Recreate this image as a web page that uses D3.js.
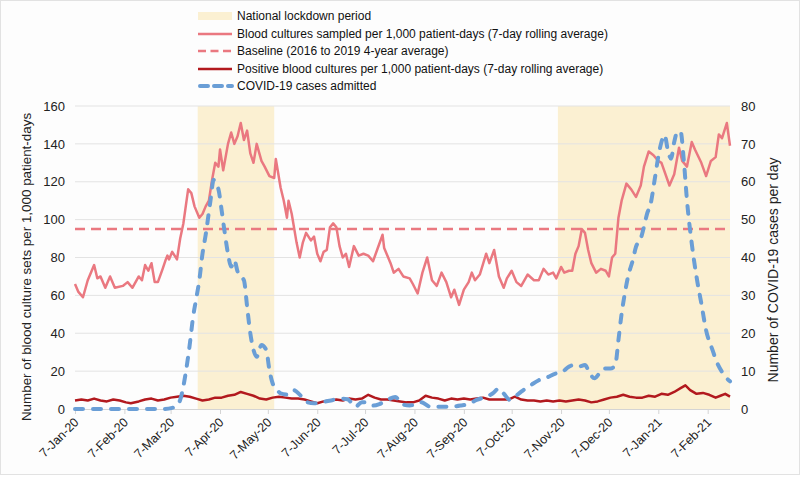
<!DOCTYPE html>
<html><head><meta charset="utf-8">
<script src="https://cdn.jsdelivr.net/npm/d3@7"></script>
<style>
body{margin:0;background:#fff;}
svg{display:block;font-family:"Liberation Sans",Arial,sans-serif;}
</style></head>
<body><svg id="c" width="800" height="477"></svg>
<script>
// ---- data (day offsets counted from 7-Jan-2020) ----
const startDate = "2020-01-07";
const endDate = "2021-02-21";
const xTickLabels = ["7-Jan-20","7-Feb-20","7-Mar-20","7-Apr-20","7-May-20","7-Jun-20","7-Jul-20","7-Aug-20","7-Sep-20","7-Oct-20","7-Nov-20","7-Dec-20","7-Jan-21","7-Feb-21"];
const leftTicks = [0,20,40,60,80,100,120,140,160];
const rightTicks = [0,10,20,30,40,50,60,70,80];
const lockdownStart = ["2020-03-24","2020-11-05"];
const lockdownEnd = ["2020-05-11","2021-02-21"];
const baseline = 95;

const sampledDay = [0,2,5,8,12,14,16,19,22,25,30,33,36,40,42,44,46,48,50,52,55,57,58,59,61,64,66,68,70,71,73,75,78,80,82,84,86,88,90,91,93,96,98,100,102,104,106,108,110,112,114,117,119,122,125,126,129,131,133,134,136,139,141,143,145,148,150,152,154,156,158,160,162,164,166,168,170,172,175,178,181,184,187,190,193,194,198,200,203,206,210,212,215,218,221,224,227,230,233,236,238,241,244,247,249,251,254,258,260,263,266,269,271,274,277,280,284,288,291,294,297,300,302,305,307,310,312,314,316,318,320,322,324,327,330,333,335,337,339,341,343,346,349,352,355,357,360,363,366,368,373,376,379,381,384,387,389,393,396,399,402,404,406,409,411];
const sampledValue = [66,62,59,68,76,69,70,64,70,64,65,67,64,70,68,76,73,77,67,67,74,79,81,79,83,79,90,98,110,116,114,107,101,103,107,110,121,130,128,137,126,140,146,140,144,151,142,147,135,130,140,131,128,123,122,132,117,110,101,110,103,88,80,88,93,89,91,82,78,83,84,96,98,96,86,80,82,75,86,81,82,81,78,85,92,85,77,72,74,70,69,66,61,72,80,68,65,72,67,59,63,55,63,67,72,68,71,82,77,84,70,64,69,73,67,65,71,68,68,74,71,72,69,75,72,73,73,82,86,95,93,84,77,72,74,73,70,80,82,101,110,119,116,112,118,128,136,134,131,130,118,124,138,131,128,141,137,130,123,131,133,145,143,151,139];

const positiveDay = [0,4,8,12,16,20,24,28,32,35,40,44,48,52,56,60,64,68,72,76,80,84,88,92,96,100,104,108,112,116,120,124,128,132,136,140,144,148,152,156,160,164,168,172,176,180,184,188,192,196,200,204,208,212,216,220,224,228,232,236,240,244,248,252,256,260,264,268,272,276,280,284,288,292,296,300,304,308,312,316,320,324,328,332,336,340,344,348,352,356,360,364,368,372,376,380,383,386,390,394,398,402,405,408,411];
const positiveValue = [4.5,5,4.5,5.5,4.5,4,5,4.5,3.5,3,4,5,5.5,4.5,5,6,6.5,7,6.5,5.5,4.5,5,6,6,7,7.5,9,8,7,5.5,5,6,6.5,6,5.5,5.5,5,4,3,4,4.5,5,4.5,5.5,5,5.5,7.5,6,5,5,4.5,4,3.5,3.5,4.5,7,6,5.5,4.5,5.5,5,5.5,5,5.5,6,5,5,5,5,6.5,5,4.5,4.5,4,4.5,4,4.5,4,4.5,5,4.5,3.5,4,5,6,6.5,7.5,6.5,6,6,7,6.5,8,7.5,9,11,12.5,10,8,8.5,7.5,6,7,8,6.5];

const covidDay = [0,20,40,55,61,64,66,68,70,72,74,76,78,80,82,85,87,89,90,92,94,96,98,100,102,104,106,108,110,112,114,117,120,122,124,127,129,133,137,141,145,150,156,162,168,171,176,180,183,187,191,196,201,205,210,217,223,229,235,242,247,252,258,262,266,269,273,276,280,286,291,296,302,305,310,313,316,320,323,326,329,332,336,339,341,343,345,347,350,352,355,357,359,361,364,366,368,370,372,374,376,378,380,382,384,387,390,393,396,400,403,406,409,411];
const covidValue = [0,0,0,0,0.3,1,2.4,6,11,17,24,29,34,41,46,55,60.5,59,58,52.5,46.4,41,37.6,39.3,36.3,35,34,27,20,15.6,13.8,16.9,15.6,10.3,6.8,5,4.1,3.8,5,3.8,1.9,1.5,1.9,2.4,2.7,2.6,0.6,1.8,1.8,0.9,1.3,2.4,3.2,1.3,0.9,1.8,0.6,0.6,0.6,0.9,1.3,2.4,3.2,4.1,5.4,4.1,2.4,3.2,4.6,6.3,7.6,8.3,9.4,9.6,11.2,11.6,11.2,11.6,9.4,8.1,9.4,10.7,10.7,11.6,18.2,25.2,30.5,34.9,39.3,42.8,45,48.1,51.6,53.8,61.3,66.6,70.5,72.3,68.3,66.1,70.5,73.2,73.2,65.7,55.1,43.7,34.9,27.9,20.8,15.6,12.1,9.8,8.1,7.3];

const seriesNames = ["National lockdown period","Blood cultures sampled per 1,000 patient-days (7-day rolling average)","Baseline (2016 to 2019 4-year average)","Positive blood cultures per 1,000 patient-days (7-day rolling average)","COVID-19 cases admitted"];

// ---- drawing ----
const svg = d3.select("#c");
const W = 800, H = 477;
const L = 75, R = 730, T = 106, B = 409;
const parse = d3.timeParse("%Y-%m-%d");
const t0 = parse(startDate);
const dayToDate = d => d3.timeDay.offset(t0, d);

const col = {pink:"#EA7880", dark:"#B2191E", blue:"#6A9ED6", shade:"#FBF0D2", grid:"#E3E3E3"};

svg.append("rect").attr("x",0.5).attr("y",0.5).attr("width",W-1).attr("height",H-3)
  .attr("fill","#FDFDFD").attr("stroke","#E2E2E2");

const x = d3.scaleTime().domain([t0, parse(endDate)]).range([L, R]);
const yL = d3.scaleLinear().domain([0,160]).range([B, T]);
const yR = d3.scaleLinear().domain([0,80]).range([B, T]);

// lockdown shading
svg.append("g").selectAll("rect").data(lockdownStart).join("rect")
  .attr("x", (d,i) => x(parse(d)))
  .attr("width", (d,i) => x(parse(lockdownEnd[i])) - x(parse(d)))
  .attr("y", T).attr("height", B - T).attr("fill", col.shade);

// grid
svg.append("g").selectAll("line").data(leftTicks.filter(v=>v>0)).join("line")
  .attr("x1", L).attr("x2", R).attr("y1", d=>yL(d)).attr("y2", d=>yL(d))
  .attr("stroke", col.grid).attr("stroke-width",1);

// x axis
const xTickDates = xTickLabels.map(s => d3.timeParse("%d-%b-%y")(s));
const xAxis = d3.axisBottom(x).tickValues(xTickDates).tickFormat(d3.timeFormat("%-d-%b-%y")).tickSize(5).tickSizeOuter(0);
const gx = svg.append("g").attr("transform",`translate(0,${B})`).call(xAxis);
gx.select(".domain").attr("stroke","#D4D4D4").attr("d",`M${L},0.5H${R}`);
gx.selectAll(".tick line").attr("stroke","#D4D4D4");
gx.selectAll(".tick text").attr("font-size",12.5).attr("fill","#222")
  .attr("text-anchor","end").attr("dy",0).attr("y",0)
  .attr("transform","translate(4,14) rotate(-45)");

// left axis
const gl = svg.append("g").attr("transform",`translate(${L},0)`)
  .call(d3.axisLeft(yL).tickValues(leftTicks).tickSize(0).tickPadding(10));
gl.select(".domain").remove();
gl.selectAll("text").attr("font-size",13).attr("fill","#222");

// right axis
const gr = svg.append("g").attr("transform",`translate(${R},0)`)
  .call(d3.axisRight(yR).tickValues(rightTicks).tickSize(0).tickPadding(11));
gr.select(".domain").remove();
gr.selectAll("text").attr("font-size",13).attr("fill","#222");

// axis titles
svg.append("text").attr("transform","translate(31,267) rotate(-90)").attr("text-anchor","middle")
  .attr("font-size",13.4).attr("fill","#222").text("Number of blood culture sets per 1,000 patient-days");
svg.append("text").attr("transform","translate(778,270) rotate(-90)").attr("text-anchor","middle")
  .attr("font-size",14).attr("fill","#222").text("Number of COVID-19 cases per day");

// baseline
svg.append("line").attr("x1",L).attr("x2",R).attr("y1",yL(baseline)).attr("y2",yL(baseline))
  .attr("stroke",col.pink).attr("stroke-width",2.5).attr("stroke-dasharray","10,6");

const line = (days, vals, ys) => d3.line().x((d,i)=>x(dayToDate(days[i]))).y((d,i)=>ys(vals[i]))(vals);

svg.append("path").attr("d", line(sampledDay, sampledValue, yL)).attr("fill","none")
  .attr("stroke",col.pink).attr("stroke-width",2.5).attr("stroke-linejoin","round");
svg.append("path").attr("d", line(positiveDay, positiveValue, yL)).attr("fill","none")
  .attr("stroke",col.dark).attr("stroke-width",2.5).attr("stroke-linejoin","round");
svg.append("path").attr("d", d3.line().curve(d3.curveMonotoneX).x((d,i)=>x(dayToDate(covidDay[i]))).y((d,i)=>yR(covidValue[i]))(covidValue))
  .attr("fill","none").attr("stroke",col.blue).attr("stroke-width",4)
  .attr("stroke-dasharray","8,10").attr("stroke-linecap","round");

// legend
const lg = svg.append("g");
const ly = [16,34,51,69,86];
const lx0 = 198, lx1 = 232;
lg.append("rect").attr("x",lx0).attr("y",ly[0]-4).attr("width",lx1-lx0).attr("height",8).attr("fill",col.shade);
lg.append("line").attr("x1",lx0).attr("x2",lx1).attr("y1",ly[1]).attr("y2",ly[1]).attr("stroke",col.pink).attr("stroke-width",2.5);
lg.append("line").attr("x1",lx0).attr("x2",lx1).attr("y1",ly[2]).attr("y2",ly[2]).attr("stroke",col.pink).attr("stroke-width",2.5).attr("stroke-dasharray","8,4.5");
lg.append("line").attr("x1",lx0).attr("x2",lx1).attr("y1",ly[3]).attr("y2",ly[3]).attr("stroke",col.dark).attr("stroke-width",2.5);
lg.append("line").attr("x1",lx0+2).attr("x2",lx1).attr("y1",ly[4]).attr("y2",ly[4]).attr("stroke",col.blue).attr("stroke-width",4).attr("stroke-dasharray","8,6").attr("stroke-linecap","round");
lg.selectAll("text").data(seriesNames).join("text")
  .attr("x",237).attr("y",(d,i)=>ly[i]).attr("dy","0.35em")
  .attr("font-size",12).attr("fill","#111").text(d=>d);
</script></body></html>
